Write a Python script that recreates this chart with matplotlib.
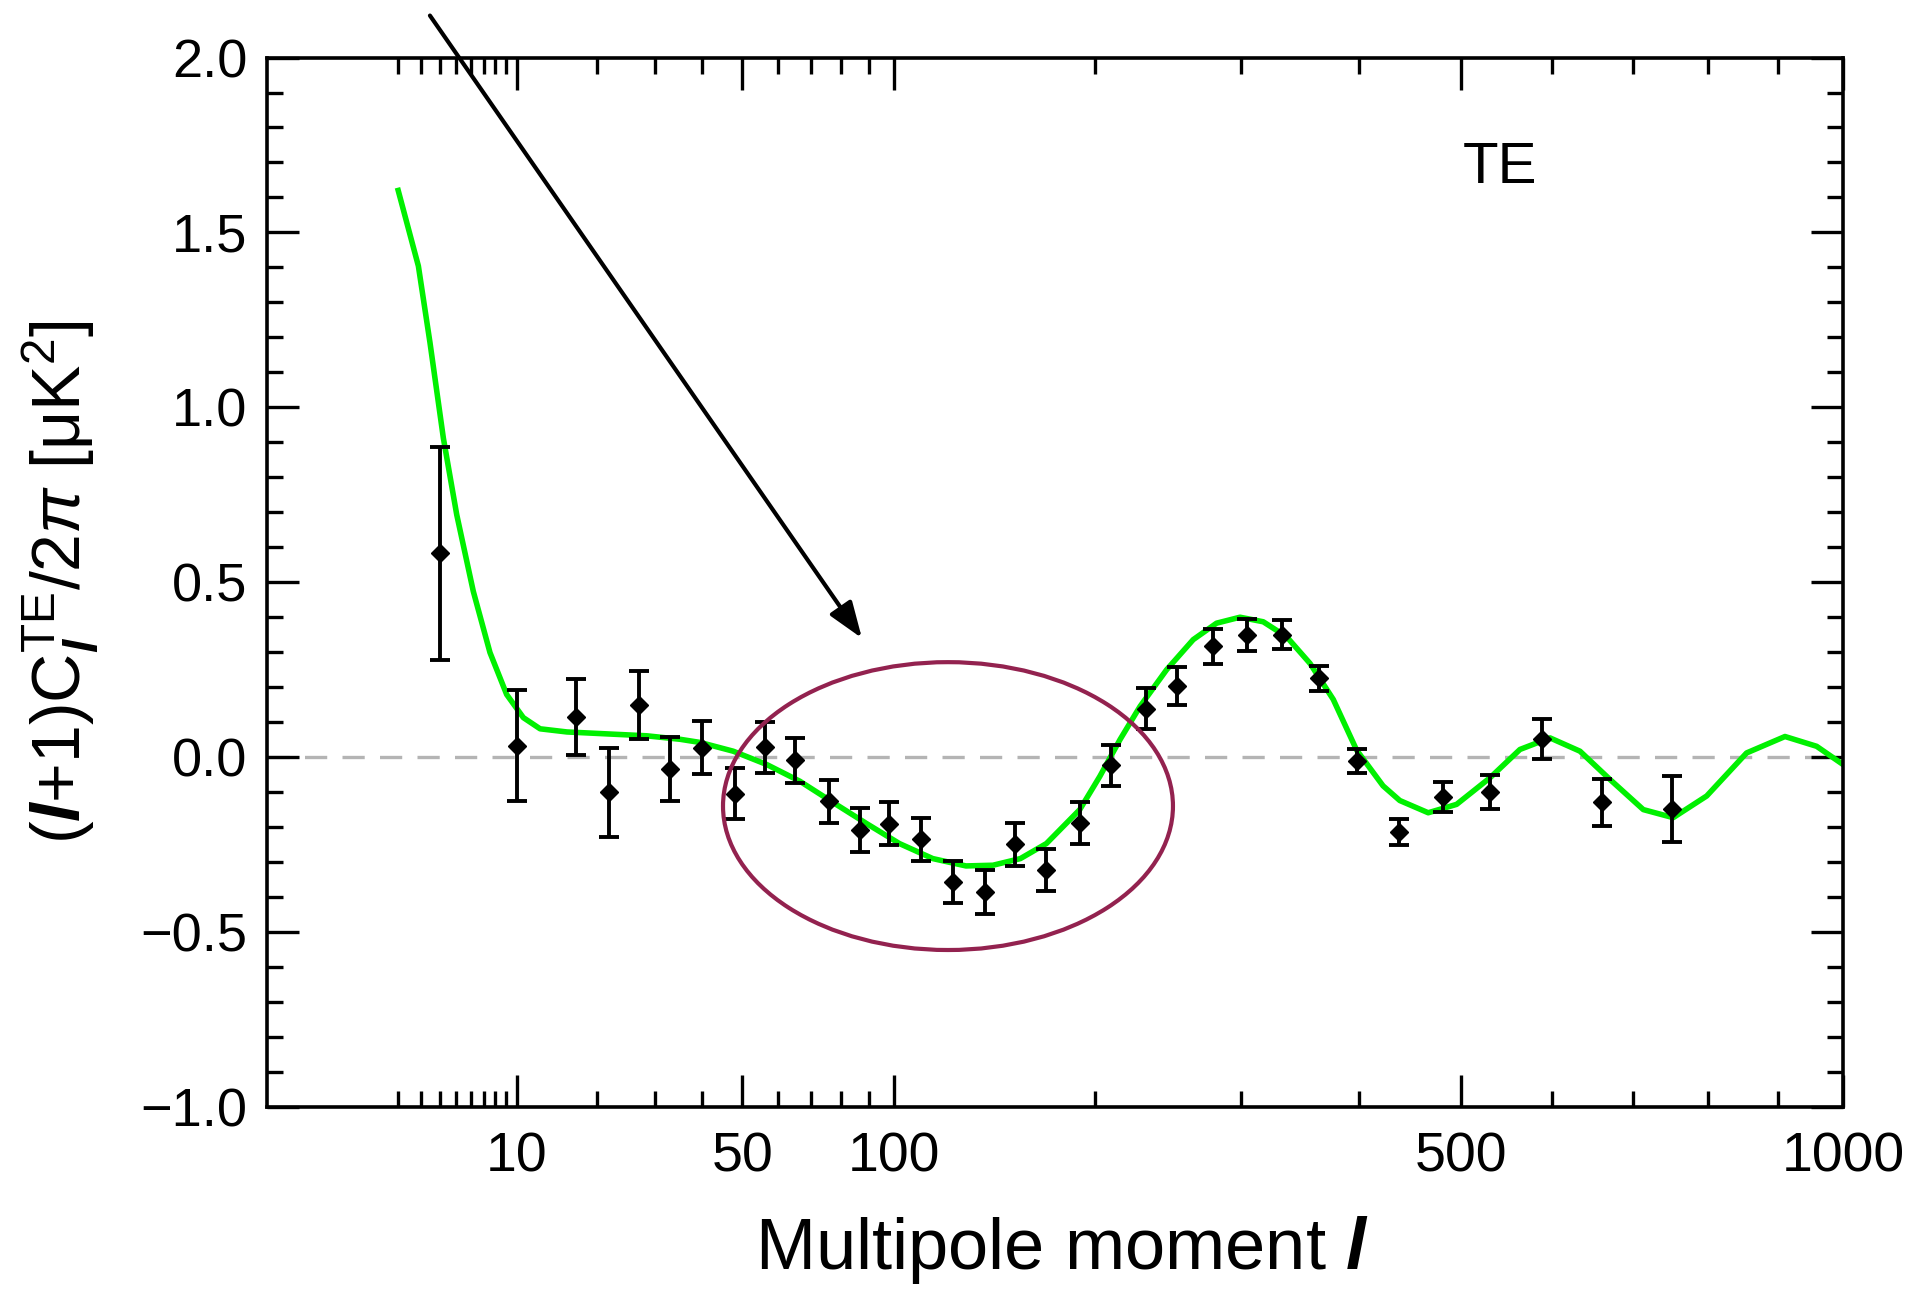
import numpy as np
import matplotlib
matplotlib.use('Agg')
import matplotlib.pyplot as plt
from matplotlib.patches import Ellipse
from matplotlib.ticker import FixedLocator, NullFormatter

plt.rcParams['font.family'] = ['Liberation Sans', 'DejaVu Sans']
plt.rcParams['mathtext.fontset'] = 'custom'
plt.rcParams['mathtext.rm'] = 'Liberation Sans'
plt.rcParams['mathtext.it'] = 'Liberation Sans:italic'
plt.rcParams['mathtext.bf'] = 'Liberation Sans:bold'
plt.rcParams['mathtext.bfit'] = 'Liberation Sans:italic:bold'
plt.rcParams['lines.scale_dashes'] = False

# binned TE data points (multipole, value, half error)
l_bin = [4, 10, 17, 22, 27, 33, 40, 48, 56, 65, 76, 87, 98, 111, 125, 140, 155,
         172, 191, 210, 232, 253, 279, 305, 333, 364, 398, 437, 481, 531, 589, 661, 751]
te_bin = [0.583, 0.033, 0.115, -0.101, 0.148, -0.033, 0.027, -0.104, 0.028, -0.009,
          -0.126, -0.207, -0.190, -0.235, -0.356, -0.385, -0.249, -0.323, -0.188,
          -0.023, 0.139, 0.203, 0.317, 0.349, 0.350, 0.225, -0.011, -0.213, -0.114,
          -0.099, 0.053, -0.129, -0.148]
te_err = [0.305, 0.158, 0.108, 0.128, 0.097, 0.092, 0.076, 0.073, 0.072, 0.065,
          0.062, 0.063, 0.062, 0.062, 0.060, 0.062, 0.062, 0.059, 0.060, 0.059,
          0.058, 0.055, 0.050, 0.046, 0.041, 0.036, 0.034, 0.037, 0.043, 0.049,
          0.057, 0.067, 0.095]

# model curve
l_model = [2, 2.86, 3.44, 4.19, 5.03, 6.2, 7.53, 9.02, 10.67, 12.5, 15.8, 28.5,
           35.2, 39.6, 47.6, 56.6, 66.5, 77.4, 89.3, 102, 116, 131, 144, 158, 172,
           191, 203, 215.5, 228.4, 246.2, 264.8, 281.8, 299.5, 317.7, 336.7, 356.3,
           376.5, 397.5, 422, 438, 466, 495, 530.5, 563.6, 598, 633.5, 670.4,
           712.7, 752, 797.6, 854, 910.5, 958.7, 1000]
te_model = [1.62, 1.404, 1.185, 0.912, 0.693, 0.474, 0.299, 0.179, 0.113, 0.081,
            0.072, 0.061, 0.051, 0.042, 0.017, -0.021, -0.069, -0.13, -0.19,
            -0.247, -0.29, -0.311, -0.309, -0.29, -0.247, -0.15, -0.055, 0.05,
            0.145, 0.25, 0.336, 0.383, 0.4, 0.387, 0.344, 0.268, 0.165, 0.02,
            -0.082, -0.124, -0.159, -0.135, -0.059, 0.022, 0.055, 0.017, -0.064,
            -0.15, -0.173, -0.111, 0.012, 0.059, 0.031, -0.021]

x_major = [10, 50, 100, 500, 1000]
x_minor = [2, 3, 4, 5, 6, 7, 8, 9, 20, 30, 40, 60, 70, 80, 90,
           200, 300, 400, 600, 700, 800, 900]


def fwd(x):
    x = np.asarray(x, dtype=float)
    return np.sign(x) * np.abs(x) ** 0.4


def inv(y):
    y = np.asarray(y, dtype=float)
    return np.sign(y) * np.abs(y) ** 2.5


fig = plt.figure(figsize=(19.18, 12.90), dpi=100)
ax = fig.add_axes([0.1392, 0.1419, 0.8217, 0.8135])
ax.set_xscale('function', functions=(fwd, inv))
ax.set_xlim(0, 1000)
ax.set_ylim(-1.0, 2.0)

ax.axhline(0, color='#b4b4b4', lw=2.4, dashes=(16, 11), zorder=1)
ax.plot(l_model, te_model, color='#00f000', lw=4, zorder=2,
        solid_joinstyle='round')
ax.errorbar(l_bin, te_bin, yerr=te_err, fmt='D', ms=9.5, color='black',
            ecolor='black', elinewidth=2.8, capsize=7.5, capthick=2.8, zorder=3)

ax.add_patch(Ellipse((0.4321, 0.2867), 0.2855, 0.2743, transform=ax.transAxes,
                     fill=False, edgecolor='#93224f', lw=3, zorder=4))

ax.annotate('', xy=(0.3775, 0.4467), xytext=(0.1034, 1.04),
            xycoords='axes fraction', textcoords='axes fraction',
            annotation_clip=False,
            arrowprops=dict(arrowstyle='-|>,head_length=1.1,head_width=0.4',
                            lw=3, color='black', mutation_scale=20,
                            shrinkA=0, shrinkB=0))

ax.text(0.7824, 0.8943, 'TE', transform=ax.transAxes, fontsize=42,
        ha='center', va='center')

ax.xaxis.set_major_locator(FixedLocator(x_major))
ax.xaxis.set_minor_locator(FixedLocator(x_minor))
ax.xaxis.set_minor_formatter(NullFormatter())
ax.set_xticklabels([str(v) for v in x_major])
ax.set_yticks(np.arange(-1.0, 2.01, 0.5))
ax.set_yticks(np.arange(-1.0, 2.01, 0.1), minor=True)
ax.set_yticklabels(['\u22121.0', '\u22120.5', '0.0', '0.5', '1.0', '1.5', '2.0'])

ax.tick_params(which='both', direction='in', top=True, right=True, width=2.4)
ax.tick_params(which='major', length=23)
ax.tick_params(which='minor', length=11.5)
ax.tick_params(axis='x', which='major', labelsize=40, pad=18)
ax.tick_params(axis='y', which='major', labelsize=39, pad=14)
for s in ax.spines.values():
    s.set_linewidth(2.6)

fig.text(0.5537, 0.031, r'Multipole moment $\mathbfit{l}$', fontsize=52,
         ha='center', va='center')
fig.text(0.0318, 0.5488,
         r'$(\mathbfit{l}$+1)C$_{\mathbfit{l}}^{\mathrm{TE}}$/2$\pi$ [μK$^{2}$]',
         fontsize=49, rotation=90, ha='center', va='center')

fig.savefig('out.png', dpi=100)
